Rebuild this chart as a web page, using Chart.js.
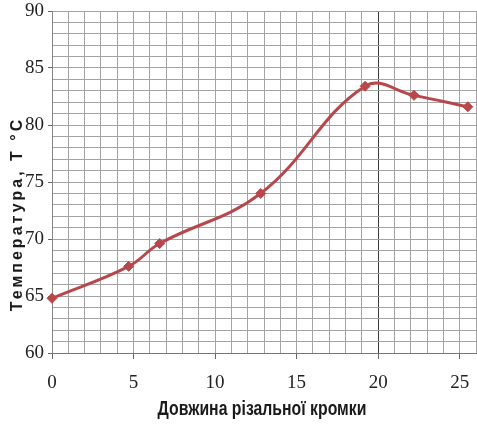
<!DOCTYPE html>
<html>
<head>
<meta charset="utf-8">
<script src="https://cdn.jsdelivr.net/npm/chart.js@4/dist/chart.umd.min.js"></script>
<style>
  body { margin: 0; background: #fff; }
  canvas { display: block; }
</style>
</head>
<body>
<canvas id="tempChart" width="477" height="425"></canvas>
<script>
// cutting edge length (x) and measured temperature (y)
const edgeLength = [0, 4.7, 6.6, 12.8, 19.2, 22.2, 25.5];
const temperature = [64.8, 67.6, 69.6, 74.0, 83.4, 82.6, 81.6];

const xTitle = 'Довжина різальної кромки';
const yTitle = 'Температура, T °C';

const lineColor = '#b8474b';
const gridColor = '#a3a3a3';

// axis titles drawn by hand: the y one sits low and is letter-spaced,
// the x one is a squeezed (condensed) bold face
const axisTitlePlugin = {
  id: 'axisTitles',
  afterDraw(chart) {
    const ctx = chart.ctx;

    ctx.save();
    ctx.translate(18, 214);
    ctx.rotate(-Math.PI / 2);
    ctx.font = 'bold 16px "Liberation Sans", Arial, sans-serif';
    ctx.letterSpacing = '3px';
    ctx.fillStyle = '#1a1a1a';
    ctx.textAlign = 'center';
    ctx.textBaseline = 'middle';
    ctx.fillText(yTitle, 0, 0);
    ctx.restore();

    ctx.save();
    ctx.translate(262, 415);
    ctx.scale(0.79, 1);
    ctx.font = 'bold 20px "Liberation Sans", Arial, sans-serif';
    ctx.fillStyle = '#1a1a1a';
    ctx.textAlign = 'center';
    ctx.textBaseline = 'alphabetic';
    ctx.fillText(xTitle, 0, 0);
    ctx.restore();
  }
};

const points = edgeLength.map((x, i) => ({ x: x, y: temperature[i] }));

const everyFifth = (value) => (value % 5 === 0 ? String(value) : '');

new Chart(document.getElementById('tempChart'), {
  type: 'line',
  data: {
    datasets: [{
      data: points,
      borderColor: lineColor,
      backgroundColor: lineColor,
      borderWidth: 3,
      tension: 0.4,
      pointStyle: 'rectRot',
      pointRadius: 5,
      pointBorderWidth: 1,
      clip: 8
    }]
  },
  plugins: [axisTitlePlugin],
  options: {
    responsive: false,
    animation: false,
    layout: {
      autoPadding: false,
      padding: { top: 11, right: 1, left: 0, bottom: 0 }
    },
    plugins: {
      legend: { display: false },
      tooltip: { enabled: false }
    },
    scales: {
      x: {
        type: 'linear',
        min: 0,
        max: 26,
        afterFit: (scale) => {
          scale.height = 72;
          scale.paddingLeft = 0;
          scale.paddingRight = 0;
        },
        ticks: {
          stepSize: 1,
          autoSkip: false,
          maxRotation: 0,
          padding: 13,
          color: '#222',
          font: { family: '"Liberation Serif", "Times New Roman", serif', size: 19 },
          callback: everyFifth
        },
        grid: {
          color: (c) => (c.tick && c.tick.value === 20 ? '#3a3a3a' : gridColor),
          tickColor: (c) => (c.tick && c.tick.value % 5 === 0 ? '#666' : 'transparent'),
          tickLength: 6
        },
        border: { color: '#777' }
      },
      y: {
        min: 60,
        max: 90,
        afterFit: (scale) => {
          scale.width = 52;
          scale.paddingTop = 0;
          scale.paddingBottom = 0;
        },
        ticks: {
          stepSize: 1,
          autoSkip: false,
          padding: 4,
          color: '#222',
          font: { family: '"Liberation Serif", "Times New Roman", serif', size: 19 },
          callback: everyFifth
        },
        grid: {
          color: gridColor,
          tickColor: (c) => (c.tick && c.tick.value % 5 === 0 ? '#666' : 'transparent'),
          tickLength: 4
        },
        border: { color: '#888' }
      }
    }
  }
});
</script>
</body>
</html>
